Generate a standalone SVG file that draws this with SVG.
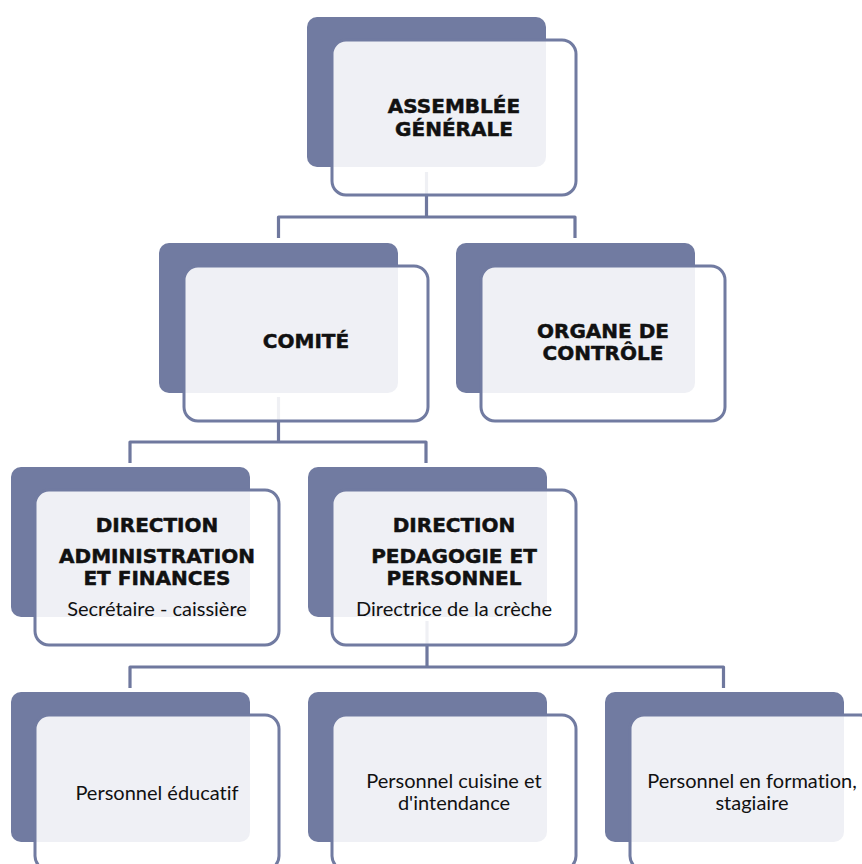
<svg xmlns="http://www.w3.org/2000/svg" width="862" height="864" viewBox="0 0 862 864">
<style>
.back{fill:#717ba1}
.front{fill:#ffffff;fill-opacity:0.89;stroke:#717ba1;stroke-width:3}
.conn{fill:none;stroke:#6f789e;stroke-width:3.2;stroke-linejoin:round}
.t{font-family:"DejaVu Sans",sans-serif;font-weight:bold;font-size:20px;fill:#111;stroke:#111;stroke-width:0.5;text-anchor:middle}
.r{font-family:Lato,"Noto Sans",sans-serif;font-size:20px;fill:#111;text-anchor:middle;font-variant-ligatures:none}
</style>
<rect width="862" height="864" fill="#ffffff"/>
<g id="connectors">
<path class="conn" d="M426.5,172 V217 M278.5,238 V217 H575 V238"/>
<path class="conn" d="M278.5,397 V442 M130,463 V442 H426 V463"/>
<path class="conn" d="M427,621 V667 M130,688 V667 H723.5 V688"/>
</g>
<g id="n-ag">
<rect class="back" x="307" y="17" width="239" height="150" rx="10"/>
<rect class="front" x="332" y="40" width="244" height="155" rx="14"/>
<text class="t" x="454" y="113">ASSEMBLÉE</text>
<text class="t" x="454" y="136">GÉNÉRALE</text>
</g>
<g id="n-comite">
<rect class="back" x="159" y="243" width="239" height="150" rx="10"/>
<rect class="front" x="184" y="266" width="244" height="155" rx="14"/>
<text class="t" x="306" y="348">COMITÉ</text>
</g>
<g id="n-organe">
<rect class="back" x="456" y="243" width="239" height="150" rx="10"/>
<rect class="front" x="481" y="266" width="244" height="155" rx="14"/>
<text class="t" x="603" y="338">ORGANE DE</text>
<text class="t" x="603" y="360">CONTRÔLE</text>
</g>
<g id="n-admin">
<rect class="back" x="11" y="467" width="239" height="150" rx="10"/>
<rect class="front" x="35" y="490" width="244" height="155" rx="14"/>
<text class="t" x="157" y="532">DIRECTION</text>
<text class="t" x="157" y="563">ADMINISTRATION</text>
<text class="t" x="157" y="585">ET FINANCES</text>
<text class="r" x="157" y="616">Secrétaire - caissière</text>
</g>
<g id="n-pedagogie">
<rect class="back" x="308" y="467" width="239" height="150" rx="10"/>
<rect class="front" x="332" y="490" width="244" height="155" rx="14"/>
<text class="t" x="454" y="532">DIRECTION</text>
<text class="t" x="454" y="563">PEDAGOGIE ET</text>
<text class="t" x="454" y="585">PERSONNEL</text>
<text class="r" x="454" y="616">Directrice de la crèche</text>
</g>
<g id="n-educatif">
<rect class="back" x="11" y="692" width="239" height="150" rx="10"/>
<rect class="front" x="35" y="715" width="244" height="155" rx="14"/>
<text class="r" x="157" y="800">Personnel éducatif</text>
</g>
<g id="n-cuisine">
<rect class="back" x="308" y="692" width="239" height="150" rx="10"/>
<rect class="front" x="332" y="715" width="244" height="155" rx="14"/>
<text class="r" x="454" y="788">Personnel cuisine et</text>
<text class="r" x="454" y="810">d'intendance</text>
</g>
<g id="n-formation">
<rect class="back" x="605" y="692" width="239" height="150" rx="10"/>
<rect class="front" x="630" y="715" width="244" height="155" rx="14"/>
<text class="r" x="752" y="788">Personnel en formation,</text>
<text class="r" x="752" y="810">stagiaire</text>
</g>
</svg>
